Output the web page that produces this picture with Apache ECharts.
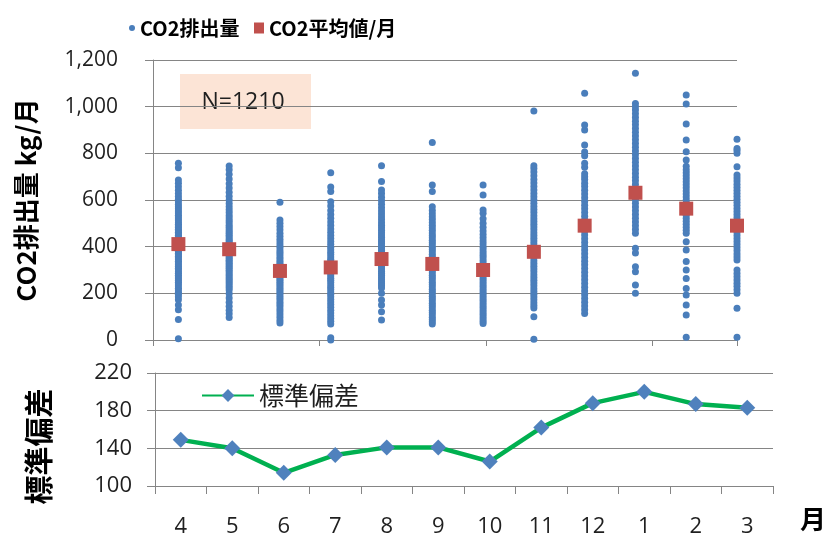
<!DOCTYPE html>
<html>
<head>
<meta charset="utf-8">
<script src="https://cdn.jsdelivr.net/npm/echarts@6/dist/echarts.min.js"></script>
<style>
  html, body { margin: 0; padding: 0; background: #fff; }
  #chart { width: 830px; height: 538px; }
</style>
</head>
<body>
<div id="chart"></div>
<script>
// Fiscal-year months, April through March
const months = ['4', '5', '6', '7', '8', '9', '10', '11', '12', '1', '2', '3'];

// Individual household CO2 emissions (kg/month), one list per month
const co2Apr = [5, 88, 130, 150, 172, 185, 196, 205, 214, 222, 231, 240, 248, 255, 263, 270, 278, 286, 293, 301, 308, 315, 322, 330, 337, 344, 351, 358, 365, 372, 379, 386, 392, 398, 405, 411, 417, 423, 430, 436, 442, 449, 455, 462, 468, 475, 482, 489, 496, 503, 511, 519, 527, 535, 544, 553, 562, 571, 581, 592, 603, 615, 628, 642, 657, 672, 686, 738, 757];
const co2May = [96, 112, 128, 145, 162, 180, 198, 214, 224, 233, 242, 251, 259, 267, 275, 283, 291, 299, 307, 314, 321, 328, 335, 342, 349, 356, 363, 370, 377, 384, 391, 398, 405, 412, 419, 426, 433, 441, 449, 457, 465, 474, 483, 492, 502, 512, 523, 534, 546, 558, 571, 585, 600, 616, 633, 651, 670, 690, 710, 730, 746];
const co2Jun = [73, 84, 96, 108, 120, 131, 142, 152, 162, 172, 181, 190, 199, 208, 216, 224, 232, 240, 248, 256, 264, 272, 280, 288, 296, 304, 312, 320, 329, 338, 347, 356, 366, 376, 386, 397, 408, 420, 432, 445, 458, 472, 486, 500, 514, 590];
const co2Jul = [0, 10, 69, 80, 92, 104, 116, 128, 140, 152, 163, 174, 185, 196, 206, 216, 226, 236, 246, 256, 265, 274, 283, 292, 301, 310, 319, 328, 337, 346, 356, 366, 376, 387, 398, 410, 422, 435, 448, 462, 476, 491, 506, 522, 538, 555, 574, 593, 636, 656, 717];
const co2Aug = [86, 121, 150, 171, 200, 223, 232, 241, 250, 259, 268, 277, 286, 295, 304, 313, 322, 331, 340, 349, 358, 367, 376, 385, 394, 403, 412, 421, 430, 440, 450, 460, 470, 481, 492, 503, 515, 527, 540, 553, 567, 582, 597, 612, 628, 643, 679, 747];
const co2Sep = [69, 78, 88, 98, 108, 118, 128, 138, 148, 158, 168, 178, 188, 198, 208, 218, 228, 238, 248, 258, 268, 278, 288, 298, 308, 318, 328, 338, 348, 358, 368, 378, 388, 398, 408, 418, 428, 438, 448, 459, 470, 481, 492, 504, 516, 528, 541, 555, 571, 636, 664, 846];
const co2Oct = [71, 80, 90, 100, 110, 120, 130, 140, 150, 160, 170, 180, 190, 200, 210, 220, 230, 240, 250, 260, 270, 280, 290, 300, 310, 320, 330, 341, 352, 363, 374, 386, 398, 411, 424, 438, 452, 467, 483, 500, 520, 543, 557, 621, 664];
const co2Nov = [3, 100, 137, 148, 160, 172, 184, 196, 208, 220, 232, 244, 256, 268, 280, 292, 304, 316, 328, 340, 352, 364, 376, 388, 400, 412, 424, 436, 448, 460, 472, 484, 496, 508, 520, 533, 546, 559, 572, 586, 600, 614, 628, 643, 658, 673, 688, 704, 720, 735, 747, 981];
const co2Dec = [114, 130, 146, 162, 178, 194, 210, 226, 242, 258, 274, 290, 306, 322, 338, 354, 370, 386, 402, 418, 434, 450, 466, 482, 498, 514, 530, 546, 562, 578, 594, 610, 626, 642, 658, 672, 688, 700, 712, 740, 757, 790, 806, 836, 900, 921, 1057];
const co2Jan = [200, 236, 293, 314, 373, 393, 458, 474, 490, 506, 522, 538, 554, 570, 586, 602, 618, 634, 650, 666, 682, 698, 714, 730, 746, 762, 778, 794, 810, 826, 842, 858, 874, 890, 906, 922, 938, 954, 970, 986, 1000, 1014, 1143];
const co2Feb = [12, 107, 150, 193, 221, 264, 300, 336, 386, 421, 457, 470, 483, 496, 509, 522, 535, 548, 561, 574, 587, 600, 613, 626, 639, 652, 665, 678, 691, 704, 717, 730, 745, 771, 807, 857, 926, 1011, 1050];
const co2Mar = [12, 136, 200, 215, 230, 243, 257, 271, 285, 300, 343, 356, 369, 382, 395, 408, 421, 434, 447, 460, 473, 486, 499, 512, 525, 538, 551, 564, 577, 590, 603, 616, 629, 642, 655, 668, 681, 694, 707, 743, 800, 812, 821, 860];

// Monthly mean emissions (kg/month)
const avgCo2 = [411, 389, 296, 311, 347, 326, 300, 378, 490, 631, 563, 490];

// Monthly standard deviation
const stdDev = [149, 140, 114, 133, 141, 141, 126, 162, 188, 200, 187, 183];

const monthlyCo2 = [co2Apr, co2May, co2Jun, co2Jul, co2Aug, co2Sep, co2Oct, co2Nov, co2Dec, co2Jan, co2Feb, co2Mar];

const scatterData = [];
monthlyCo2.forEach((vals, i) => vals.forEach(v => scatterData.push([i, v])));
const avgData = avgCo2.map((v, i) => [i, v]);

const gridColor = '#858585';
const labelColor = '#1f1f1f';
const numFont = "'Open Sans', sans-serif";
const cjkFont = "'Noto Sans CJK JP', sans-serif";

const chart = echarts.init(document.getElementById('chart'), null, { renderer: 'canvas' });

chart.setOption({
  animation: false,
  backgroundColor: '#ffffff',
  grid: [
    { left: 153, top: 60, width: 584, height: 280 },
    { left: 155, top: 373, width: 618, height: 115 }
  ],
  legend: [
    {
      data: ['CO2排出量'], left: 124, top: 13, itemWidth: 6, itemHeight: 6,
      icon: 'circle',
      textStyle: { fontSize: 20, fontWeight: 'bold', fontFamily: cjkFont, color: '#000' }
    },
    {
      data: ['CO2平均値/月'], left: 249, top: 13, itemWidth: 10, itemHeight: 11,
      icon: 'rect',
      textStyle: { fontSize: 20, fontWeight: 'bold', fontFamily: cjkFont, color: '#000' }
    },
    {
      data: ['標準偏差'], left: 196, top: 378, itemWidth: 52, itemHeight: 16,
      textStyle: { fontSize: 25, fontFamily: cjkFont, color: labelColor }
    }
  ],
  xAxis: [
    {
      gridIndex: 0, type: 'value', min: -0.5, max: 11, interval: 3.28,
      axisLine: { show: true, onZero: false, lineStyle: { color: gridColor } },
      axisTick: { show: true, length: 6, lineStyle: { color: gridColor } },
      axisLabel: { show: false },
      splitLine: { show: false }
    },
    {
      gridIndex: 1, type: 'category', data: months, boundaryGap: true,
      axisLine: { show: true, onZero: false, lineStyle: { color: gridColor } },
      axisTick: { show: true, length: 8, lineStyle: { color: gridColor } },
      axisLabel: { fontSize: 22, margin: 30, color: labelColor, fontFamily: numFont },
      name: '月', nameLocation: 'end', nameGap: 27,
      nameTextStyle: {
        fontSize: 26, fontWeight: 'bold', fontFamily: cjkFont, color: '#000',
        verticalAlign: 'top', padding: [20, 0, 0, 0]
      }
    }
  ],
  yAxis: [
    {
      gridIndex: 0, type: 'value', min: 0, max: 1200, interval: 200,
      axisLine: { show: true, onZero: false, lineStyle: { color: gridColor } },
      axisTick: { show: true, length: 8, lineStyle: { color: gridColor } },
      axisLabel: {
        fontSize: 21, margin: 35, color: labelColor, fontFamily: numFont,
        formatter: v => v.toLocaleString('en-US')
      },
      splitLine: { show: true, lineStyle: { color: gridColor, width: 1 } },
      name: 'CO2排出量 kg/月', nameLocation: 'middle', nameRotate: 90, nameGap: 114,
      nameTextStyle: { fontSize: 26, fontWeight: 'bold', fontFamily: cjkFont, color: '#000' }
    },
    {
      gridIndex: 1, type: 'value', min: 100, max: 220, interval: 40,
      axisLine: { show: true, onZero: false, lineStyle: { color: gridColor } },
      axisTick: { show: true, length: 8, lineStyle: { color: gridColor } },
      axisLabel: { fontSize: 22, margin: 23, color: labelColor, fontFamily: numFont },
      splitLine: { show: true, lineStyle: { color: gridColor, width: 1 } },
      name: '標準偏差', nameLocation: 'middle', nameRotate: 90, nameGap: 102,
      nameTextStyle: { fontSize: 29, fontWeight: 'bold', fontFamily: cjkFont, color: '#000', padding: [0, 34, 0, 0] }
    }
  ],
  series: [
    {
      name: 'CO2排出量', type: 'scatter', xAxisIndex: 0, yAxisIndex: 0,
      data: scatterData, symbol: 'circle', symbolSize: 7, clip: false,
      itemStyle: { color: '#4A7EBB', opacity: 1 }, z: 2
    },
    {
      name: 'CO2平均値/月', type: 'scatter', xAxisIndex: 0, yAxisIndex: 0,
      data: avgData, symbol: 'rect', symbolSize: 14, clip: false,
      itemStyle: { color: '#C0504D', opacity: 1 }, z: 3
    },
    {
      name: '標準偏差', type: 'line', xAxisIndex: 1, yAxisIndex: 1,
      data: stdDev, symbol: 'diamond', symbolSize: 16, showSymbol: true,
      lineStyle: { color: '#00B050', width: 4.5 },
      itemStyle: { color: '#4F81BD' }, z: 3
    }
  ],
  graphic: [
    {
      type: 'group', left: 180, top: 74, z: 10,
      children: [
        { type: 'rect', shape: { x: 0, y: 0, width: 131, height: 55 }, style: { fill: '#FCE4D6' } },
        {
          type: 'text', x: 63, y: 28,
          style: { text: 'N=1210', fontSize: 23, fontFamily: numFont, fill: labelColor, align: 'center', verticalAlign: 'middle' }
        }
      ]
    }
  ]
});
</script>
</body>
</html>
